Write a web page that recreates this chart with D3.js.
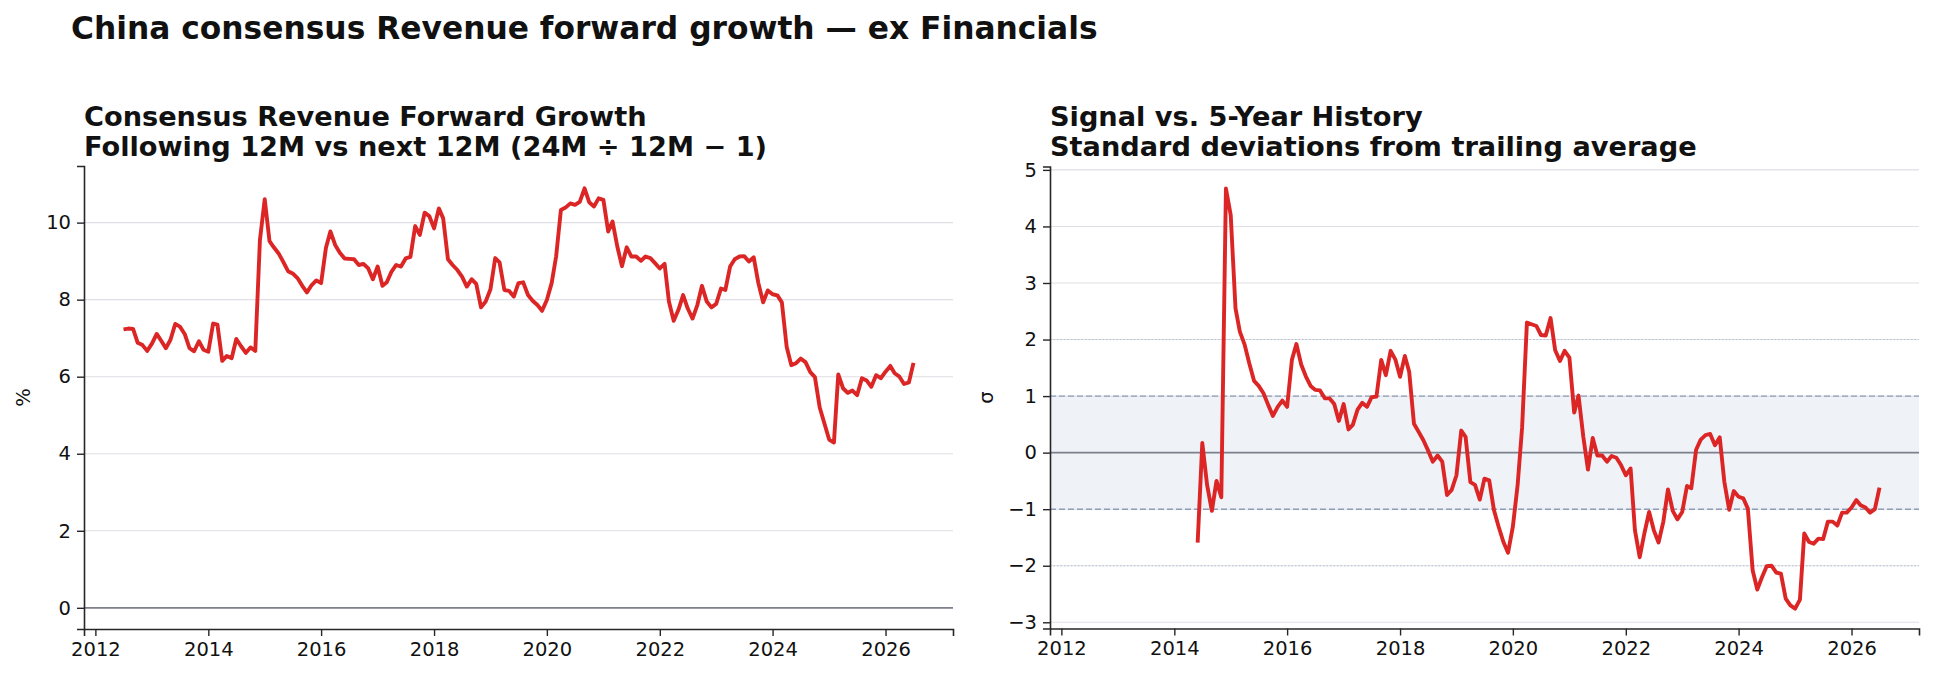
<!DOCTYPE html>
<html>
<head>
<meta charset="utf-8">
<script src="https://cdn.jsdelivr.net/npm/d3@7/dist/d3.min.js"></script>
<style>
  body { margin: 0; background: #fff; }
  text { font-family: "DejaVu Sans", sans-serif; fill: #111; }
</style>
</head>
<body>
<script>
// ---- data (monthly, first point = Jul 2012) ----
var firstMonth = new Date(2012, 6, 1);

var growthValues = [
  7.23, 7.25, 7.24, 6.88, 6.82, 6.67, 6.86, 7.11, 6.94, 6.74,
  6.96, 7.37, 7.30, 7.11, 6.74, 6.66, 6.92, 6.70, 6.65, 7.38,
  7.35, 6.41, 6.54, 6.48, 6.98, 6.79, 6.62, 6.76, 6.67, 9.55,
  10.61, 9.52, 9.36, 9.20, 8.98, 8.74, 8.68, 8.56, 8.36, 8.19,
  8.38, 8.50, 8.43, 9.34, 9.77, 9.42, 9.22, 9.07, 9.06, 9.05,
  8.90, 8.93, 8.81, 8.53, 8.86, 8.36, 8.45, 8.73, 8.90, 8.86,
  9.07, 9.11, 9.91, 9.68, 10.26, 10.17, 9.85, 10.37, 10.11, 9.05,
  8.90, 8.77, 8.60, 8.34, 8.53, 8.41, 7.80, 7.95, 8.27, 9.08,
  8.97, 8.25, 8.23, 8.08, 8.43, 8.45, 8.12, 7.97, 7.86, 7.71,
  7.99, 8.43, 9.12, 10.33, 10.39, 10.50, 10.46, 10.54, 10.89, 10.53,
  10.42, 10.63, 10.59, 9.77, 10.03, 9.38, 8.87, 9.36, 9.12, 9.12,
  9.01, 9.12, 9.08, 8.95, 8.81, 8.93, 7.95, 7.45, 7.73, 8.12,
  7.77, 7.51, 7.86, 8.36, 7.95, 7.80, 7.89, 8.29, 8.25, 8.86,
  9.05, 9.12, 9.13, 8.99, 9.10, 8.43, 7.93, 8.24, 8.14, 8.11,
  7.93, 6.78, 6.30, 6.35, 6.47, 6.38, 6.12, 5.99, 5.20, 4.79,
  4.37, 4.29, 6.06, 5.70, 5.58, 5.64, 5.52, 5.96, 5.90, 5.74,
  6.04, 5.96, 6.13, 6.28, 6.09, 6.00, 5.81, 5.85, 6.36
];

// z-score series starts 23 months later (Jun 2014)
var sigmaOffset = 23;
var sigmaValues = [
  -1.59, 0.17, -0.57, -1.03, -0.50, -0.79, 4.67, 4.20, 2.55, 2.14,
  1.91, 1.58, 1.27, 1.18, 1.05, 0.84, 0.65, 0.81, 0.92, 0.81,
  1.64, 1.92, 1.56, 1.35, 1.18, 1.11, 1.10, 0.96, 0.96, 0.86,
  0.56, 0.86, 0.41, 0.49, 0.76, 0.88, 0.81, 0.98, 0.99, 1.64,
  1.37, 1.80, 1.65, 1.34, 1.71, 1.43, 0.51, 0.37, 0.22, 0.04,
  -0.16, -0.05, -0.16, -0.75, -0.66, -0.40, 0.39, 0.28, -0.52, -0.57,
  -0.83, -0.46, -0.49, -1.02, -1.31, -1.58, -1.77, -1.31, -0.57, 0.45,
  2.30, 2.27, 2.24, 2.08, 2.07, 2.38, 1.81, 1.62, 1.80, 1.68,
  0.71, 1.01, 0.28, -0.30, 0.26, -0.05, -0.05, -0.16, -0.06, -0.09,
  -0.22, -0.40, -0.28, -1.37, -1.85, -1.43, -1.05, -1.37, -1.59, -1.22,
  -0.65, -1.03, -1.18, -1.05, -0.59, -0.63, 0.05, 0.23, 0.31, 0.33,
  0.13, 0.27, -0.52, -1.01, -0.68, -0.78, -0.81, -0.99, -2.08, -2.42,
  -2.20, -2.01, -2.00, -2.12, -2.14, -2.58, -2.70, -2.76, -2.60, -1.43,
  -1.58, -1.61, -1.52, -1.53, -1.22, -1.22, -1.29, -1.06, -1.06, -0.97,
  -0.84, -0.93, -0.97, -1.06, -1.00, -0.62
];

var yearTicks = [2012, 2014, 2016, 2018, 2020, 2022, 2024, 2026];
var growthTicks = [0, 2, 4, 6, 8, 10];
var sigmaTicks = [-3, -2, -1, 0, 1, 2, 3, 4, 5];
var bandLevels = [-1, 1];
var guideLevels = [-2, 2];

var mainTitle = 'China consensus Revenue forward growth \u2014 ex Financials';
var leftTitle = ['Consensus Revenue Forward Growth', 'Following 12M vs next 12M (24M \u00f7 12M \u2212 1)'];
var rightTitle = ['Signal vs. 5-Year History', 'Standard deviations from trailing average'];

// ---- build series ----
var growth = growthValues.map(function (v, i) {
  return {date: d3.timeMonth.offset(firstMonth, i), value: v};
});
var sigma = sigmaValues.map(function (v, i) {
  return {date: d3.timeMonth.offset(firstMonth, i + sigmaOffset), value: v};
});

// ---- layout ----
var svg = d3.select('body').append('svg')
    .attr('width', 1934)
    .attr('height', 679);

var lineColor = '#dc2626';
var spineColor = '#262626';
var gridColor = '#dfdfe5';
var tickFont = 19.5;

svg.append('text')
    .attr('x', 71)
    .attr('y', 39)
    .attr('font-size', 31.3)
    .attr('font-weight', 'bold')
    .text(mainTitle);

// shared x domain: data extent + 5% margins like matplotlib
var ext = d3.extent(growth, function (d) { return d.date; });
var span = ext[1] - ext[0];
var xDomain = [new Date(+ext[0] - span * 0.05), new Date(+ext[1] + span * 0.05)];

function drawPanel(opts) {
  var g = svg.append('g')
      .attr('transform', 'translate(' + [opts.x, opts.y] + ')');

  var xScale = d3.scaleTime().domain(xDomain).range([0, opts.w]);
  var yScale = d3.scaleLinear().domain(opts.yDomain).range([opts.h, 0]);

  // titles
  var t = svg.append('text')
      .attr('x', opts.x)
      .attr('font-size', 27.2)
      .attr('font-weight', 'bold');
  opts.title.forEach(function (line, i) {
    t.append('tspan').attr('x', opts.x).attr('y', 126 + i * 29.5).text(line);
  });

  // band behind everything
  if (opts.band) {
    g.append('rect')
        .attr('x', 0)
        .attr('width', opts.w)
        .attr('y', yScale(opts.band[1]))
        .attr('height', yScale(opts.band[0]) - yScale(opts.band[1]))
        .attr('fill', '#eff3f8');
  }

  // horizontal grid
  g.selectAll('.grid')
    .data(opts.yTicks)
    .enter()
    .append('line')
    .attr('class', 'grid')
    .attr('x1', 0).attr('x2', opts.w)
    .attr('y1', function (d) { return yScale(d); })
    .attr('y2', function (d) { return yScale(d); })
    .attr('stroke', gridColor)
    .attr('stroke-width', 1.1);

  if (opts.guides) {
    g.selectAll('.guide')
      .data(opts.guides)
      .enter()
      .append('line')
      .attr('x1', 0).attr('x2', opts.w)
      .attr('y1', function (d) { return yScale(d); })
      .attr('y2', function (d) { return yScale(d); })
      .attr('stroke', '#b4c1d4')
      .attr('stroke-width', 1.1)
      .attr('stroke-dasharray', '1.5,2');
  }
  if (opts.band) {
    g.selectAll('.bandEdge')
      .data(opts.band)
      .enter()
      .append('line')
      .attr('x1', 0).attr('x2', opts.w)
      .attr('y1', function (d) { return yScale(d); })
      .attr('y2', function (d) { return yScale(d); })
      .attr('stroke', '#8d9db7')
      .attr('stroke-width', 1.4)
      .attr('stroke-dasharray', '6,3');
  }

  // zero line
  g.append('line')
      .attr('x1', 0).attr('x2', opts.w)
      .attr('y1', yScale(0)).attr('y2', yScale(0))
      .attr('stroke', '#7c818b')
      .attr('stroke-width', 1.7);

  // series
  var line = d3.line()
      .x(function (d) { return xScale(d.date); })
      .y(function (d) { return yScale(d.value); });

  g.append('path')
      .datum(opts.data)
      .attr('d', line)
      .attr('fill', 'none')
      .attr('stroke', lineColor)
      .attr('stroke-width', 3.9)
      .attr('stroke-linejoin', 'round')
      .attr('stroke-linecap', 'butt');

  // axes
  var xAxis = d3.axisBottom(xScale)
      .tickValues(yearTicks.map(function (y) { return new Date(y, 0, 1); }))
      .tickFormat(d3.timeFormat('%Y'))
      .tickSizeOuter(0)
      .tickSize(7)
      .tickPadding(6);
  var yAxis = d3.axisLeft(yScale)
      .tickValues(opts.yTicks)
      .tickFormat(d3.format('d'))
      .tickSizeOuter(0)
      .tickSize(7)
      .tickPadding(6);

  var gx = g.append('g')
      .attr('transform', 'translate(0,' + opts.h + ')')
      .call(xAxis);
  var gy = g.append('g').call(yAxis);

  [gx, gy].forEach(function (ax) {
    ax.attr('font-family', null).attr('font-size', null);
    ax.select('.domain').attr('stroke', spineColor).attr('stroke-width', 1.6);
    ax.selectAll('.tick line').attr('stroke', spineColor).attr('stroke-width', 1.4);
    ax.selectAll('.tick text').attr('font-size', tickFont).attr('fill', '#111');
  });

  // y label
  g.append('text')
      .attr('transform', 'translate(' + [opts.labelX, opts.h / 2] + ')rotate(-90)')
      .attr('text-anchor', 'middle')
      .attr('font-size', tickFont)
      .text(opts.yLabel);
}

drawPanel({
  x: 84, y: 166, w: 869, h: 463,
  yDomain: [-0.55, 11.47],
  yTicks: growthTicks,
  data: growth,
  title: leftTitle,
  yLabel: '%',
  labelX: -54
});

drawPanel({
  x: 1050, y: 166.5, w: 869, h: 462,
  yDomain: [-3.11, 5.06],
  yTicks: sigmaTicks,
  data: sigma,
  title: rightTitle,
  yLabel: '\u03c3',
  labelX: -57,
  band: bandLevels,
  guides: guideLevels
});
</script>
</body>
</html>
